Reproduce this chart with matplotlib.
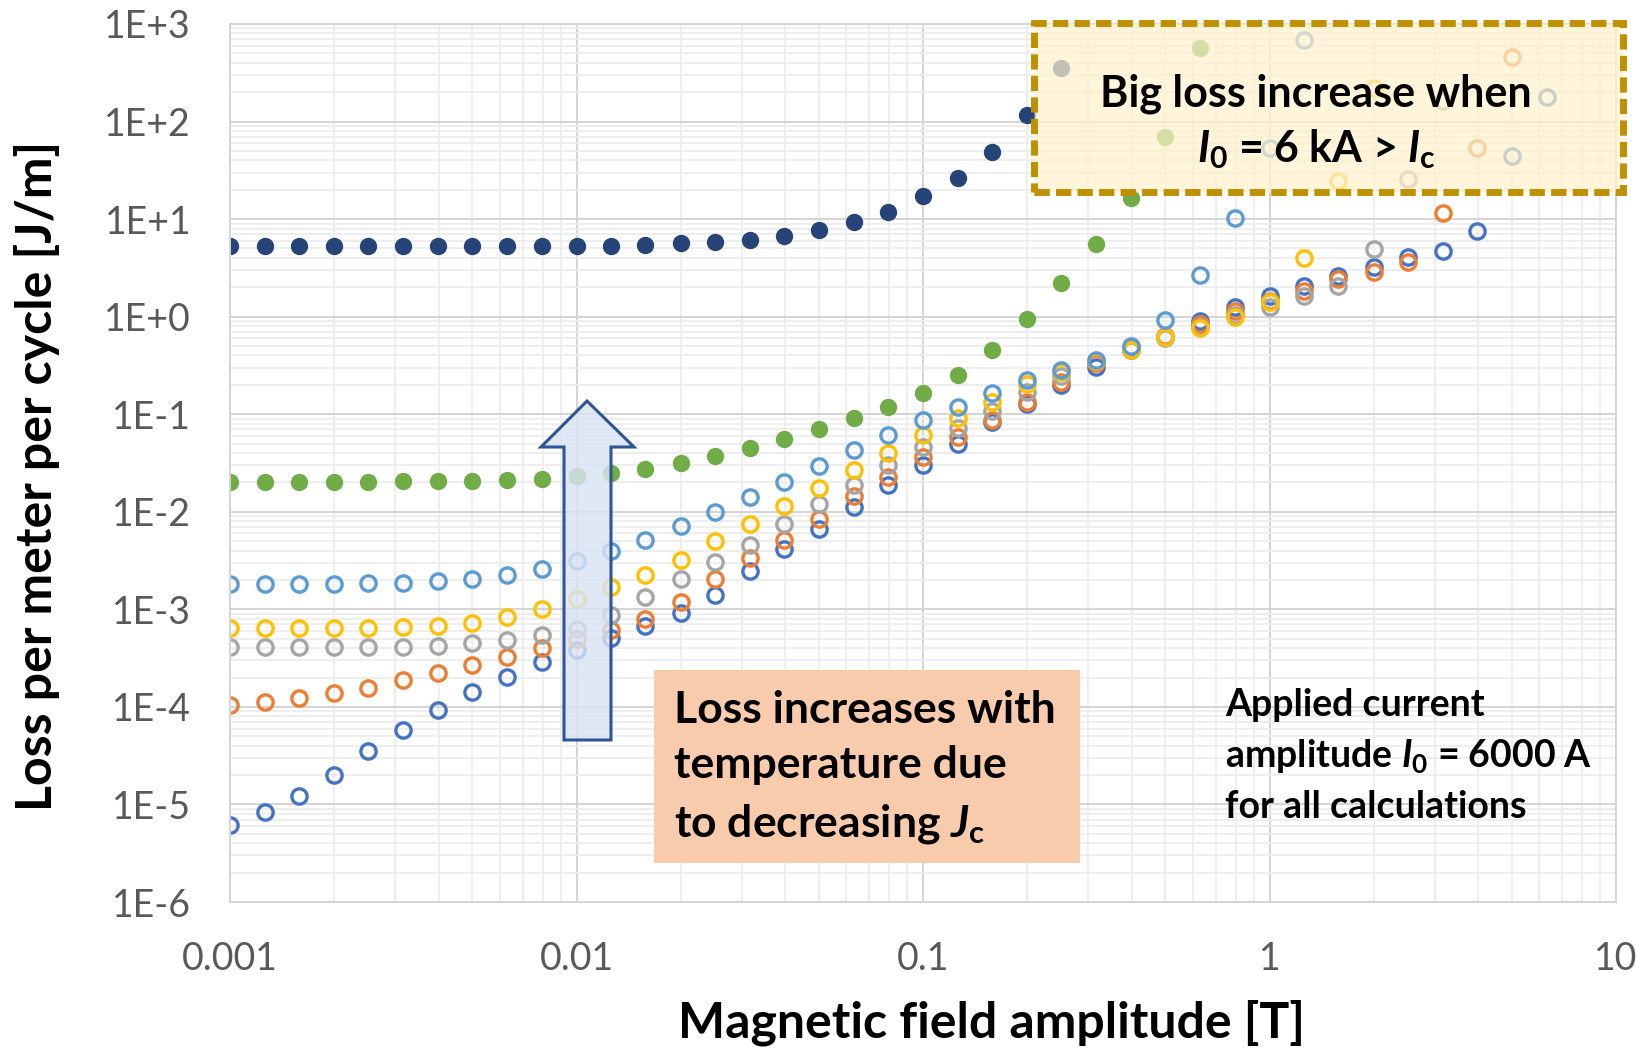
import matplotlib
matplotlib.use("Agg")
import matplotlib.pyplot as plt
from matplotlib.patches import Rectangle, Polygon
from matplotlib.ticker import LogLocator, NullFormatter

plt.rcParams["font.family"] = ["Lato", "DejaVu Sans"]
plt.rcParams["mathtext.fontset"] = "custom"
plt.rcParams["mathtext.it"] = "Lato:bold:italic"
plt.rcParams["mathtext.rm"] = "Lato:bold"
plt.rcParams["mathtext.bf"] = "Lato:bold"

# magnetic field amplitude [T], 10 points per decade
b_field = [0.001, 0.00126, 0.00158, 0.002, 0.00251, 0.00316, 0.00398, 0.00501, 0.00631, 0.00794,
           0.01, 0.0126, 0.0158, 0.02, 0.0251, 0.0316, 0.0398, 0.0501, 0.0631, 0.0794,
           0.1, 0.126, 0.158, 0.2, 0.251, 0.316, 0.398, 0.501, 0.631, 0.794,
           1.0, 1.26, 1.58, 2.0, 2.51, 3.16, 3.98, 5.01, 6.31]

# loss per meter per cycle [J/m], one list per temperature (low -> high)
loss_1 = [6.2e-6, 8.3e-6, 1.23e-5, 2.0e-5, 3.5e-5, 5.8e-5, 9.3e-5, 1.41e-4, 2.02e-4, 2.86e-4,
          3.82e-4, 5.1e-4, 6.8e-4, 9.1e-4, 1.40e-3, 2.48e-3, 4.2e-3, 6.7e-3, 1.12e-2, 1.87e-2,
          2.99e-2, 4.98e-2, 8.3e-2, 0.128, 0.197, 0.303, 0.45, 0.62, 0.91, 1.25,
          1.64, 2.08, 2.63, 3.2, 4.05, 4.75, 7.5, 44.6, 177]
loss_2 = [1.04e-4, 1.13e-4, 1.24e-4, 1.40e-4, 1.58e-4, 1.87e-4, 2.22e-4, 2.68e-4, 3.26e-4, 3.97e-4,
          4.91e-4, 6.07e-4, 7.87e-4, 1.2e-3, 2.06e-3, 3.39e-3, 5.1e-3, 8.5e-3, 1.44e-2, 2.27e-2,
          3.64e-2, 5.83e-2, 8.77e-2, 0.133, 0.213, 0.333, 0.48, 0.64, 0.84, 1.15,
          1.46, 1.85, 2.44, 2.85, 3.6, 11.5, 54, 460]
loss_3 = [4.09e-4, 4.09e-4, 4.09e-4, 4.1e-4, 4.1e-4, 4.12e-4, 4.23e-4, 4.47e-4, 4.8e-4, 5.4e-4,
          6.36e-4, 8.7e-4, 1.34e-3, 2.04e-3, 3.06e-3, 4.6e-3, 7.43e-3, 1.19e-2, 1.9e-2, 2.99e-2,
          4.6e-2, 7.2e-2, 0.109, 0.168, 0.249, 0.349, 0.486, 0.61, 0.79, 1.03,
          1.27, 1.64, 2.08, 4.94, 26, 163]
loss_4 = [6.46e-4, 6.46e-4, 6.46e-4, 6.48e-4, 6.5e-4, 6.56e-4, 6.78e-4, 7.27e-4, 8.31e-4, 1.01e-3,
          1.29e-3, 1.70e-3, 2.27e-3, 3.24e-3, 5.02e-3, 7.55e-3, 1.145e-2, 1.77e-2, 2.66e-2, 4.03e-2,
          6.1e-2, 9.2e-2, 0.133, 0.205, 0.274, 0.355, 0.457, 0.615, 0.77, 0.99,
          1.40, 4.0, 24.7, 222]
loss_5 = [1.81e-3, 1.81e-3, 1.81e-3, 1.82e-3, 1.84e-3, 1.87e-3, 1.94e-3, 2.05e-3, 2.27e-3, 2.62e-3,
          3.16e-3, 3.94e-3, 5.1e-3, 7.1e-3, 1.0e-2, 1.42e-2, 2.02e-2, 2.94e-2, 4.26e-2, 6.1e-2,
          8.63e-2, 0.118, 0.164, 0.222, 0.281, 0.36, 0.50, 0.93, 2.7, 10.3,
          54, 690]
loss_6 = [2.02e-2, 2.02e-2, 2.03e-2, 2.03e-2, 2.04e-2, 2.05e-2, 2.07e-2, 2.08e-2, 2.10e-2, 2.15e-2,
          2.32e-2, 2.49e-2, 2.77e-2, 3.16e-2, 3.76e-2, 4.53e-2, 5.61e-2, 7.1e-2, 9.06e-2, 0.118,
          0.166, 0.251, 0.45, 0.95, 2.22, 5.5, 16.6, 69, 566]
loss_7 = [5.25, 5.25, 5.25, 5.25, 5.25, 5.25, 5.25, 5.25, 5.25, 5.25,
          5.28, 5.33, 5.46, 5.64, 5.87, 6.15, 6.76, 7.73, 9.25, 11.9,
          17.1, 26.6, 49, 117, 357]

series_colors = ["#4472C4", "#ED7D31", "#A5A5A5", "#FFC000", "#5B9BD5", "#70AD47", "#264478"]
series_filled = [False, False, False, False, False, True, True]

y_ticks = [1e-6, 1e-5, 1e-4, 1e-3, 1e-2, 1e-1, 1e0, 1e1, 1e2, 1e3]
y_labels = ["1E-6", "1E-5", "1E-4", "1E-3", "1E-2", "1E-1", "1E+0", "1E+1", "1E+2", "1E+3"]
x_ticks = [0.001, 0.01, 0.1, 1, 10]
x_labels = ["0.001", "0.01", "0.1", "1", "10"]

W, H = 1641, 1049


def fig_xy(x, y):
    # pixel position in the figure -> figure fraction
    return x / W, 1 - y / H


fig = plt.figure(figsize=(W / 100, H / 100), dpi=100)
ax = fig.add_axes([230 / W, 1 - 902 / H, 1386 / W, 878 / H])

all_losses = [loss_1, loss_2, loss_3, loss_4, loss_5, loss_6, loss_7]
for vals, color, filled in zip(all_losses, series_colors, series_filled):
    x = b_field[:len(vals)]
    if filled:
        ax.plot(x, vals, "o", ls="none", ms=12.5, color=color, mew=0)
    else:
        ax.plot(x, vals, "o", ls="none", ms=11, mfc="none", mec=color, mew=2.4)

ax.set_xscale("log")
ax.set_yscale("log")
ax.set_xlim(1e-3, 10)
ax.set_ylim(1e-6, 1e3)
ax.set_xticks(x_ticks, labels=x_labels)
ax.set_yticks(y_ticks, labels=y_labels)
ax.xaxis.set_minor_locator(LogLocator(base=10, subs=range(2, 10), numticks=20))
ax.yaxis.set_minor_locator(LogLocator(base=10, subs=range(2, 10), numticks=20))
ax.xaxis.set_minor_formatter(NullFormatter())
ax.yaxis.set_minor_formatter(NullFormatter())
ax.grid(which="major", color="#D4D4D4", lw=1.4)
ax.grid(which="minor", color="#EDEDED", lw=1.3)
ax.set_axisbelow(True)
ax.tick_params(which="both", length=0)
ax.tick_params(axis="both", pad=28, labelsize=27, labelcolor="#595959")
for s in ax.spines.values():
    s.set_color("#D4D4D4")
    s.set_linewidth(1.4)

# axis titles
fig.text(*fig_xy(992, 1038), "Magnetic field amplitude [T]", ha="center", va="baseline",
         fontsize=36, fontweight="bold")
fig.text(*fig_xy(52, 476), "Loss per meter per cycle [J/m]", ha="center", va="baseline",
         rotation=90, rotation_mode="anchor", fontsize=36, fontweight="bold")

# dashed box, top right
x0, y0 = fig_xy(1034, 192)
x1, y1 = fig_xy(1623, 23)
fig.add_artist(Rectangle((x0, y0), x1 - x0, y1 - y0, transform=fig.transFigure,
                         facecolor=(1.0, 0.949, 0.8, 0.72), edgecolor="#BF9000",
                         lw=5, ls=(0, (2.2, 0.9))))
fig.text(*fig_xy(1316, 162), "Big loss increase when\n"
         r"$\mathit{I}_\mathrm{0}$ = 6 kA > $\mathit{I}_\mathrm{c}$",
         ha="center", va="baseline", multialignment="center", fontsize=31,
         fontweight="bold", linespacing=1.38)

# block arrow
arrow_px = [(587, 401), (634, 447), (611, 447), (611, 740), (564, 740), (564, 447), (541, 447)]
fig.add_artist(Polygon([fig_xy(px, py) for px, py in arrow_px], closed=True,
                       transform=fig.transFigure, facecolor=(0.855, 0.890, 0.953, 0.82),
                       edgecolor="#2F5597", lw=2.2))

# orange note
x0, y0 = fig_xy(654, 863)
x1, y1 = fig_xy(1080, 670)
fig.add_artist(Rectangle((x0, y0), x1 - x0, y1 - y0, transform=fig.transFigure,
                         facecolor="#F8CBAD", edgecolor="none"))
fig.text(*fig_xy(674, 836), "Loss increases with\ntemperature due\n"
         r"to decreasing $\mathit{J}_\mathrm{c}$",
         ha="left", va="baseline", fontsize=32, fontweight="bold", linespacing=1.47)

fig.text(*fig_xy(1225, 818), "Applied current\n"
         r"amplitude $\mathit{I}_\mathrm{0}$ = 6000 A" "\nfor all calculations",
         ha="left", va="baseline", fontsize=27, fontweight="bold", linespacing=1.52)

fig.savefig("out.png", dpi=100)
